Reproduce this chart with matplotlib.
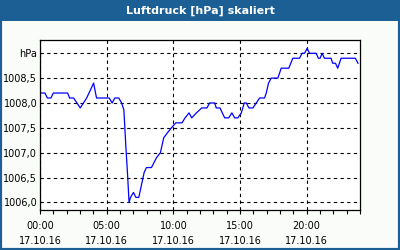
import matplotlib
matplotlib.use("Agg")
import matplotlib.pyplot as plt
from matplotlib.patches import Rectangle

# time in hours since 17.10.16 00:00, pressure in hPa
hours = [0.0, 0.37, 0.55, 0.82, 1.0, 2.07, 2.22, 2.52, 3.02, 3.5, 3.85, 4.02,
         4.24, 5.19, 5.41, 5.61, 5.91, 6.12, 6.29, 6.44, 6.56, 6.68, 6.79,
         7.01, 7.19, 7.41, 7.61, 7.81, 7.98, 8.36, 8.74, 9.03, 9.28, 9.56,
         9.86, 10.18, 10.65, 10.88, 11.18, 11.38, 11.73, 12.13, 12.52, 12.72,
         13.1, 13.22, 13.5, 13.85, 14.15, 14.39, 14.6, 14.84, 15.1, 15.32,
         15.47, 15.67, 15.97, 16.22, 16.47, 16.84, 16.97, 17.14, 17.34, 17.84,
         18.09, 18.66, 18.96, 19.46, 19.66, 19.84, 20.04, 20.21, 20.71, 20.88,
         21.01, 21.16, 21.33, 21.83, 21.95, 22.16, 22.33, 22.58, 23.65, 23.85]
pressure = [1008.2, 1008.2, 1008.1, 1008.1, 1008.2, 1008.2, 1008.1, 1008.1,
            1007.9, 1008.1, 1008.3, 1008.4, 1008.1, 1008.1, 1008.0, 1008.1,
            1008.1, 1008.0, 1007.86, 1007.12, 1006.59, 1006.0, 1006.1, 1006.2,
            1006.1, 1006.1, 1006.35, 1006.6, 1006.7, 1006.7, 1006.9, 1007.0,
            1007.3, 1007.4, 1007.5, 1007.6, 1007.6, 1007.7, 1007.8, 1007.7,
            1007.8, 1007.9, 1007.9, 1008.0, 1008.0, 1007.9, 1007.9, 1007.7,
            1007.7, 1007.8, 1007.7, 1007.7, 1007.8, 1008.0, 1008.0, 1007.9,
            1007.9, 1008.0, 1008.1, 1008.1, 1008.2, 1008.4, 1008.5, 1008.5,
            1008.7, 1008.7, 1008.9, 1008.9, 1009.0, 1009.0, 1009.1, 1009.0,
            1009.0, 1008.9, 1008.9, 1009.0, 1008.9, 1008.9, 1008.8, 1008.8,
            1008.7, 1008.9, 1008.9, 1008.8]

x_ticks = [0, 5, 10, 15, 20]
x_labels = ["00:00\n17.10.16", "05:00\n17.10.16", "10:00\n17.10.16",
            "15:00\n17.10.16", "20:00\n17.10.16"]
y_ticks = [1006.0, 1006.5, 1007.0, 1007.5, 1008.0, 1008.5, 1009.0]
y_labels = ["1006,0", "1006,5", "1007,0", "1007,5", "1008,0", "1008,5", "hPa"]
title = "Luftdruck [hPa] skaliert"

frame_blue = "#1c5f94"
bg = "#fafcfa"

fig = plt.figure(figsize=(4, 2.5), dpi=100, facecolor=bg)

# outer frame and title bar
fig.patches.append(Rectangle((0, 0), 1, 1, transform=fig.transFigure,
                             facecolor="none", edgecolor=frame_blue, lw=3))
fig.patches.append(Rectangle((0, 1 - 21 / 250), 1, 21 / 250,
                             transform=fig.transFigure, facecolor=frame_blue,
                             edgecolor="none"))
fig.text(0.5, 1 - 10.5 / 250, title, color="white", fontsize=8,
         fontweight="bold", ha="center", va="center")

ax = fig.add_axes([40 / 400, (250 - 210.3) / 250, 320 / 400, 170.3 / 250])
ax.set_facecolor("white")
ax.plot(hours, pressure, color="#0000ff", lw=0.9)

ax.set_xlim(0, 24)
ax.set_ylim(1005.84, 1009.267)
ax.set_xticks(x_ticks)
ax.set_xticklabels(x_labels, fontsize=7, linespacing=1.55)
ax.set_xticks(range(25), minor=True)
ax.set_yticks(y_ticks)
ax.set_yticklabels(y_labels, fontsize=7)
ax.tick_params(axis="y", length=0, pad=2)
ax.tick_params(axis="x", which="both", length=3, width=0.8, direction="out", pad=5)
ax.grid(True, color="black", linestyle=(0, (3, 3)), lw=0.8)
for s in ax.spines.values():
    s.set_color("black")
    s.set_linewidth(0.9)

fig.savefig("out.png", dpi=100, facecolor=bg)
